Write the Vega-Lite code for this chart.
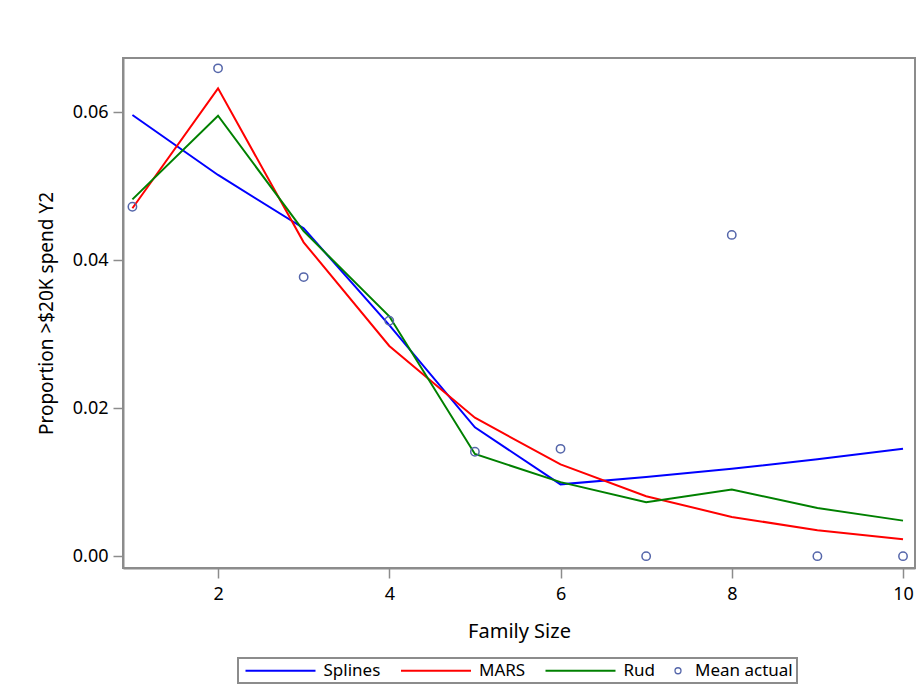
{
  "$schema": "https://vega.github.io/schema/vega-lite/v6.json",
  "width": 792,
  "height": 510,
  "autosize": {"type": "none"},
  "padding": {"left": 123, "top": 58, "right": 5, "bottom": 128},
  "background": "white",
  "config": {
    "font": "Noto Sans",
    "view": {"stroke": "#8c8c8c", "strokeWidth": 2},
    "legend": {"strokeColor": "#8c8c8c", "strokeWidth": 2},
    "axis": {
      "grid": false,
      "domainColor": "#8c8c8c",
      "domainWidth": 2,
      "tickColor": "#8c8c8c",
      "tickWidth": 1.5,
      "tickSize": 10,
      "labelFont": "Noto Sans",
      "labelFontSize": 18,
      "labelColor": "#000000",
      "titleFont": "Noto Sans",
      "titleFontWeight": "normal",
      "titleColor": "#000000"
    }
  },
  "data": {
    "values": [
      {"size": 1, "series": "Splines", "prop": 0.0596},
      {"size": 2, "series": "Splines", "prop": 0.0515},
      {"size": 3, "series": "Splines", "prop": 0.0443},
      {"size": 4, "series": "Splines", "prop": 0.0312},
      {"size": 5, "series": "Splines", "prop": 0.0174},
      {"size": 6, "series": "Splines", "prop": 0.0097},
      {"size": 7, "series": "Splines", "prop": 0.0107},
      {"size": 8, "series": "Splines", "prop": 0.0118},
      {"size": 9, "series": "Splines", "prop": 0.0131},
      {"size": 10, "series": "Splines", "prop": 0.0145},
      {"size": 1, "series": "MARS", "prop": 0.0470},
      {"size": 2, "series": "MARS", "prop": 0.0632},
      {"size": 3, "series": "MARS", "prop": 0.0424},
      {"size": 4, "series": "MARS", "prop": 0.0284},
      {"size": 5, "series": "MARS", "prop": 0.0187},
      {"size": 6, "series": "MARS", "prop": 0.0124},
      {"size": 7, "series": "MARS", "prop": 0.0081},
      {"size": 8, "series": "MARS", "prop": 0.0053},
      {"size": 9, "series": "MARS", "prop": 0.0035},
      {"size": 10, "series": "MARS", "prop": 0.0023},
      {"size": 1, "series": "Rud", "prop": 0.0482},
      {"size": 2, "series": "Rud", "prop": 0.0595},
      {"size": 3, "series": "Rud", "prop": 0.0439},
      {"size": 4, "series": "Rud", "prop": 0.0324},
      {"size": 5, "series": "Rud", "prop": 0.0138},
      {"size": 6, "series": "Rud", "prop": 0.0100},
      {"size": 7, "series": "Rud", "prop": 0.0073},
      {"size": 8, "series": "Rud", "prop": 0.0090},
      {"size": 9, "series": "Rud", "prop": 0.0065},
      {"size": 10, "series": "Rud", "prop": 0.0048},
      {"size": 1, "series": "Mean actual", "prop": 0.0472},
      {"size": 2, "series": "Mean actual", "prop": 0.0659},
      {"size": 3, "series": "Mean actual", "prop": 0.0377},
      {"size": 4, "series": "Mean actual", "prop": 0.0318},
      {"size": 5, "series": "Mean actual", "prop": 0.0141},
      {"size": 6, "series": "Mean actual", "prop": 0.0145},
      {"size": 7, "series": "Mean actual", "prop": 0.0},
      {"size": 8, "series": "Mean actual", "prop": 0.0434},
      {"size": 9, "series": "Mean actual", "prop": 0.0},
      {"size": 10, "series": "Mean actual", "prop": 0.0}
    ]
  },
  "encoding": {
    "x": {
      "field": "size",
      "type": "quantitative",
      "title": "Family Size",
      "scale": {"domain": [0.89, 10.14], "nice": false, "zero": false},
      "axis": {"values": [2, 4, 6, 8, 10], "labelPadding": 7, "titlePadding": 18, "titleFontSize": 20}
    },
    "y": {
      "field": "prop",
      "type": "quantitative",
      "title": "Proportion >$20K spend Y2",
      "scale": {"domain": [-0.0016, 0.0673], "nice": false, "zero": false},
      "axis": {"values": [0, 0.02, 0.04, 0.06], "format": ".2f", "labelPadding": 5, "titlePadding": 16, "titleFontSize": 19}
    },
    "color": {
      "field": "series",
      "type": "nominal",
      "scale": {
        "domain": ["Splines", "MARS", "Rud", "Mean actual"],
        "range": ["#0000ff", "#ff0000", "#008000", "#5566aa"]
      },
      "legend": {
        "title": null,
        "orient": "none",
        "legendX": 115,
        "legendY": 600,
        "direction": "horizontal",
        "columns": 4,
        "padding": 4,
        "columnPadding": 15.5,
        "symbolSize": 100,
        "symbolStrokeWidth": 2,
        "labelFont": "Noto Sans",
        "labelFontSize": 17,
        "labelColor": "#000000",
        "labelOffset": 64.5,
        "encode": {
          "symbols": {
            "update": {
              "shape": {"signal": "datum.value === 'Mean actual' ? 'M-1,0A0.6,0.6,0,1,1,0.2,0A0.6,0.6,0,1,1,-1,0Z' : 'M-1,0L13,0'"},
              "strokeWidth": {"signal": "datum.value === 'Mean actual' ? 1.3 : 2"},
              "fill": {"value": "transparent"}
            }
          },
          "labels": {
            "update": {
              "dx": {"signal": "datum.value === 'Mean actual' ? -58 : 0"}
            }
          }
        }
      }
    }
  },
  "layer": [
    {
      "transform": [{"filter": {"field": "series", "oneOf": ["Splines", "MARS", "Rud"]}}],
      "mark": {"type": "line", "strokeWidth": 2}
    },
    {
      "transform": [{"filter": {"field": "series", "equal": "Mean actual"}}],
      "mark": {"type": "point", "shape": "circle", "filled": false, "strokeWidth": 1.5, "opacity": 1, "size": 70}
    }
  ]
}
